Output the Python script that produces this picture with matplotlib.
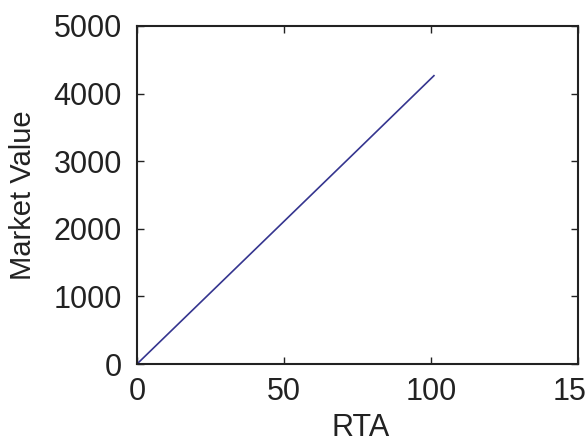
import matplotlib
matplotlib.use("Agg")
import matplotlib.pyplot as plt

rta = [0, 25, 50, 75, 101]
market_value = [0, 1055, 2110, 3165, 4265]

x_ticks = [0, 50, 100, 150]
y_ticks = [0, 1000, 2000, 3000, 4000, 5000]

plt.rcParams['font.family'] = ['Liberation Sans', 'DejaVu Sans']

fig = plt.figure(figsize=(5.87, 4.43), dpi=100)
ax = fig.add_axes([137/587, 1-364/443, (578-137)/587, (364-26)/443])
ax.plot(rta, market_value, color='#35358f', lw=1.2)
ax.set_xlim(0, 150)
ax.set_ylim(0, 5000)
ax.set_xticks(x_ticks)
ax.set_yticks(y_ticks)
ax.tick_params(direction='in', length=5, width=1, top=True, right=True,
               colors='#222222', labelsize=22)
ax.tick_params(axis='x', pad=9)
ax.tick_params(axis='y', pad=11)
for s in ax.spines.values():
    s.set_linewidth(1.5)
    s.set_color('#222222')
ax.set_xlabel('RTA', fontsize=22, color='#222222')
ax.set_ylabel('Market Value', fontsize=21, color='#222222')
ax.xaxis.set_label_coords(0.506, -0.145)
ax.yaxis.set_label_coords(-0.226, 0.5)
fig.savefig('out.png', dpi=100)
